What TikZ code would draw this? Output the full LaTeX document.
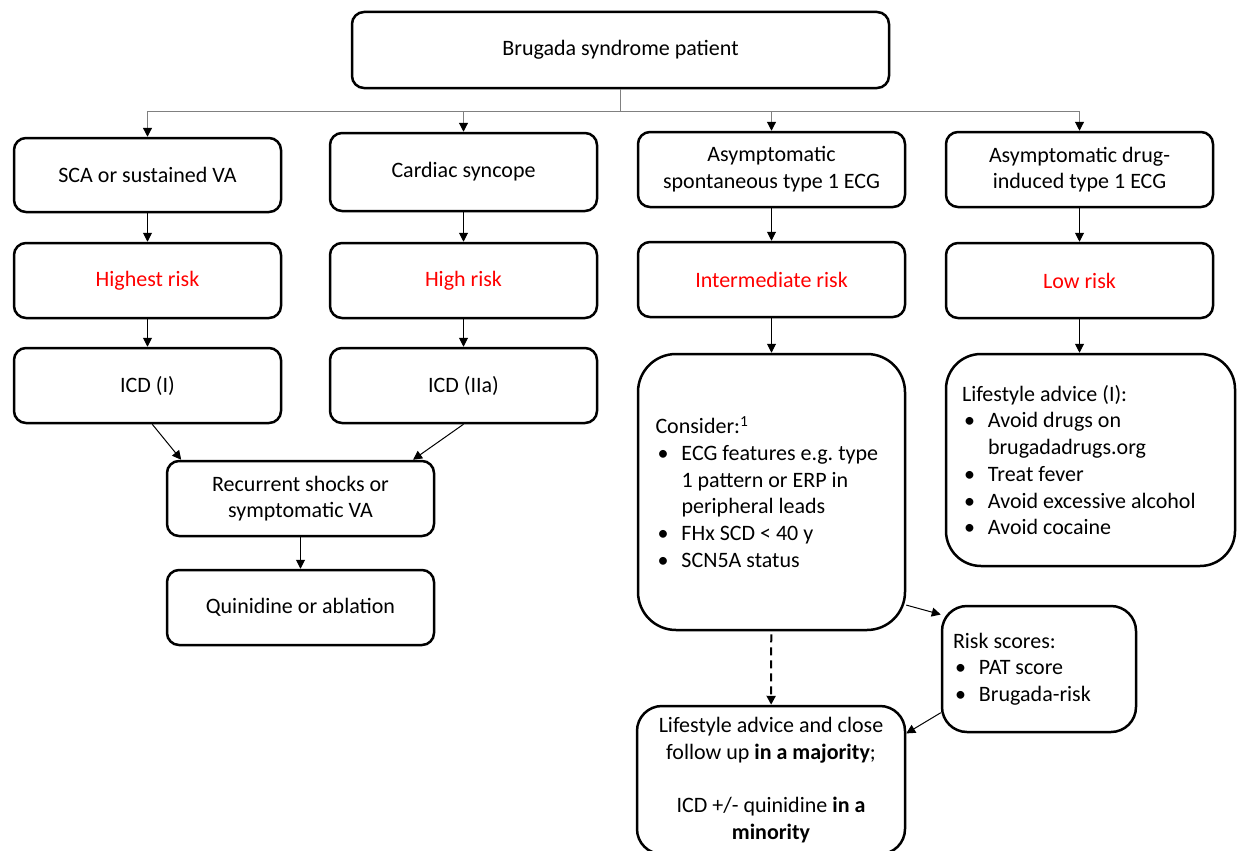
\documentclass[tikz,border=0pt]{standalone}
\usepackage{fontspec}
\setmainfont{Carlito}
\usetikzlibrary{arrows.meta}
\newcommand{\bul}{\makebox[26pt][l]{\hspace{2pt}•}}
\newcommand{\ind}{\hspace*{26pt}}
\frenchspacing

\begin{document}
\begin{tikzpicture}[x=1pt,y=-1pt,line width=1pt,
>={Triangle[length=9pt,width=9pt,color=black]},
box/.style={draw,rectangle,rounded corners=12pt,line width=2.5pt,minimum width=267pt,minimum height=75pt,align=center,font=\fontsize{22}{26.7}\selectfont},
riskbox/.style={box,text=red},
listbox/.style={box,align=flush left},
trunk/.style={gray,line width=1.2pt}]

\useasboundingbox (0,0) rectangle (1237,851);

\draw (620.5,50) node[box,minimum width=537pt,minimum height=76pt] (P) {Brugada syndrome patient};

\draw (147.5,175) node[box,minimum height=74pt] (S1) {SCA or sustained VA};
\draw (463.5,172) node[box,minimum height=78pt] (S2) {Cardiac syncope};
\draw (771.5,169.5) node[box] (S3) {Asymptomatic\\spontaneous type 1 ECG};
\draw (1079.5,169.5) node[box] (S4) {Asymptomatic drug-\\induced type 1 ECG};

\draw (147.5,280.5) node[riskbox] (R1) {Highest risk};
\draw (463.5,280.5) node[riskbox] (R2) {High risk};
\draw (771.5,279.5) node[riskbox] (R3) {Intermediate risk};
\draw (1079.5,280.5) node[riskbox] (R4) {Low risk};

\draw (147.5,385.5) node[box] (T1) {ICD (I)};
\draw (463.5,385.5) node[box] (T2) {ICD (IIa)};
\draw (300.5,498.5) node[box] (K) {Recurrent shocks or\\symptomatic VA};
\draw (300.5,607.5) node[box] (Q) {Quinidine or ablation};

\draw (771.5,492) node[listbox,rounded corners=38pt,minimum height=276pt,text width=232pt] (C3)
  {Consider:\textsuperscript{1}\\
   \bul ECG features e.g. type\\
   \ind 1 pattern or ERP in\\
   \ind peripheral leads\\
   \bul FHx SCD < 40 y\\
   \bul SCN5A status};
\draw (1090.5,460) node[listbox,rounded corners=35pt,minimum width=289pt,minimum height=212pt,text width=257pt] (L4)
  {Lifestyle advice (I):\\
   \bul Avoid drugs on\\
   \ind brugadadrugs.org\\
   \bul Treat fever\\
   \bul Avoid excessive alcohol\\
   \bul Avoid cocaine};
\draw (1039,669) node[listbox,rounded corners=25pt,minimum width=194pt,minimum height=126pt,text width=172pt] (F)
  {Risk scores:\\
   \bul PAT score\\
   \bul Brugada-risk};
\draw (771,780) node[box,rounded corners=25pt,minimum width=268pt,minimum height=148pt] (L)
  {Lifestyle advice and close\\follow up \textbf{in a majority};\\[26.7pt]
   ICD +/- quinidine \textbf{in a}\\\textbf{minority}};

% branches from the patient box
\coordinate (J) at ([yshift=-22pt]P.south);
\draw[trunk,->] (P.south) -- (J) -| (S1);
\draw[trunk,->] (J) -| (S2);
\draw[trunk,->] (J) -| (S3);
\draw[trunk,->] (J) -| (S4);

\draw[->] (S1) -- (R1);
\draw[->] (S2) -- (R2);
\draw[->] (S3) -- (R3);
\draw[->] (S4) -- (R4);

\draw[->] (R1) -- (T1);
\draw[->] (R2) -- (T2);
\draw[->] (R3) -- (C3);
\draw[->] (R4) -- (R4 |- L4.north);

\draw[->] (T1.-83) -- (K.162);
\draw[->] (T2.south) -- (K.19);
\draw[->] (K) -- (Q);

\draw[->] (C3.-40) -- (F.151);
\draw[->] (F.-156) -- (L.19);
\draw[->,line width=2pt,dash pattern=on 8pt off 5pt,shorten <=3pt] (C3) -- (L);

\end{tikzpicture}
\end{document}
